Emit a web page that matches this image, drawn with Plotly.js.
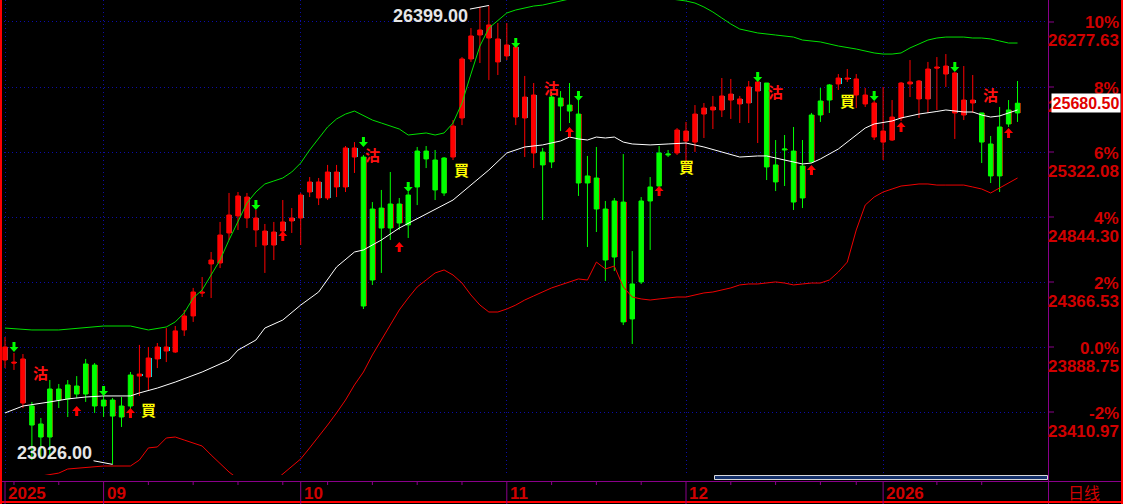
<!DOCTYPE html>
<html><head><meta charset="utf-8">
<script src="https://cdn.plot.ly/plotly-3.0.1.min.js"></script>
<style>html,body{margin:0;padding:0;background:#000;overflow:hidden}#chart{width:1123px;height:504px}</style>
</head><body><div id="chart"></div>
<script>
// ---------- data ----------
const openP  = [23889,23778,23801,23315,23227,23227,23499,23507,23543,23543,23455,23455,23381,23374,23455,23690,23808,23889,23889,24007,24117,24293,24293,24528,24712,24859,24999,24991,24837,24741,24734,24808,24837,25006,25102,25102,25175,25175,25352,25352,24190,24381,24763,24763,24800,24786,25065,25271,25043,25021,25513,26006,26175,26219,26256,26153,26109,26094,25726,25741,25227,25249,25660,25623,25094,25094,24903,24528,24550,24073,24095,24367,24962,25072,25300,25484,25476,25601,25645,25653,25734,25748,25712,25800,25837,25212,25102,25337,24954,24984,25249,25594,25704,25866,25866,25859,25741,25682,25476,25579,25829,25837,25844,25932,25947,25954,25903,25704,25704,25395,25146,25146,25528,25609];
const highP  = [23962,23845,23837,23485,23367,23646,23617,23646,23675,23801,23771,23536,23514,23521,23705,23904,23889,23918,24028,24043,24161,24323,24403,24587,24808,25021,25028,25021,24896,24793,24808,24969,24910,25021,25138,25131,25227,25227,25366,25395,25300,24954,25043,25175,24984,25028,25359,25366,25337,25285,25557,26020,26233,26388,26399,26270,26270,26123,25881,25829,25352,25763,25770,25829,25763,25293,25359,24962,24984,25307,24594,24991,25138,25366,25337,25498,25543,25667,25682,25734,25866,25859,25734,25844,25851,25829,25410,25447,25506,25410,25609,25793,25822,25895,25932,25895,25793,25697,25800,25704,25837,25998,25851,25984,26020,26042,25910,25954,25888,25609,25440,25653,25704,25844];
const lowP   = [23734,23720,23440,23058,23080,23073,23440,23374,23514,23485,23404,23374,23026,23301,23404,23529,23573,23734,23778,23845,23970,24073,24256,24249,24469,24675,24749,24763,24624,24433,24528,24690,24727,24638,24991,24932,24969,24991,25028,25168,24168,24345,24433,24675,24749,24690,24932,25204,24969,24999,25263,25520,25984,25976,25851,25888,25998,25520,25285,25204,24822,25204,25476,25535,24999,24624,24734,24374,24447,24050,23911,24352,24602,25057,25285,25300,25190,25322,25425,25491,25579,25565,25535,25535,25388,25116,25035,25072,24896,24910,25241,25543,25609,25778,25837,25645,25653,25410,25263,25403,25550,25726,25572,25609,25631,25800,25418,25557,25609,25241,25094,25028,25506,25543];
const closeP = [23793,23771,23477,23455,23323,23580,23580,23610,23602,23764,23756,23499,23499,23455,23683,23675,23668,23801,23859,23852,24014,24117,24286,24499,24506,24727,24852,24837,24749,24638,24638,24741,24815,24837,25028,24984,24984,25065,25065,25285,25285,24903,24910,24940,24940,25006,25329,25329,25263,25278,25285,25572,26006,26182,26160,25984,26028,25579,25572,25315,25322,25726,25719,25667,25601,25146,25131,24903,24962,24954,24352,24962,25065,25315,25307,25315,25403,25395,25601,25631,25631,25704,25675,25682,25770,25829,25227,25344,25329,25219,25594,25697,25815,25822,25859,25741,25675,25432,25395,25410,25572,25822,25712,25712,25939,25895,25609,25594,25682,25609,25381,25506,25631,25680.5];

// moving average (white) and bands at these candles
const maIdx = [0,2,5,7,9,11,14,15,17,19,22,23,25,26,28,29,31,33,35,37,39,40,42,44,47,50,54,56,58,60,62,63,64,65,66,67,68,69,70,72,74,76,78,81,82,84,85,87,89,90,91,93,94,96,97,99,100,102,104,105,107,108,109,110,111,112,113];
const maVal = [23404,23455,23485,23507,23521,23529,23529,23551,23587,23631,23705,23734,23793,23866,23940,24028,24087,24197,24293,24477,24587,24602,24675,24763,24866,24969,25190,25315,25359,25374,25403,25432,25418,25410,25432,25425,25432,25395,25381,25374,25381,25388,25359,25300,25285,25293,25293,25263,25234,25241,25271,25344,25395,25498,25528,25550,25572,25601,25620,25631,25616,25616,25594,25579,25587,25609,25631];
const upIdx = [0,3,6,11,14,16,18,19,20,21,22,23,24,25,26,27,28,29,30,31,32,33,34,35,36,37,38,39,40,41,42,43,44,45,46,47,48,49,50,51,52,53,54,55,56,57,58,59,60,61,62,63,65,67,70,72,74,76,77,78,79,80,81,82,83,84,86,88,89,91,93,95,97,98,99,100,101,102,103,104,105,107,108,109,110,111,112,113];
const upVal = [24028,24014,24014,24043,24043,24014,24036,24073,24139,24249,24308,24418,24528,24675,24808,24947,25028,25087,25109,25131,25175,25241,25337,25425,25506,25565,25601,25623,25587,25557,25535,25513,25491,25447,25454,25462,25447,25462,25535,25682,25895,26101,26233,26292,26344,26366,26381,26395,26402,26417,26432,26447,26460,26470,26470,26460,26450,26432,26417,26388,26351,26307,26263,26226,26211,26197,26182,26167,26145,26131,26101,26079,26050,26042,26042,26050,26087,26116,26145,26160,26167,26167,26160,26160,26153,26138,26123,26123];
const loIdx = [0,2,4,6,7,11,14,15,16,17,18,19,20,22,23,24,25,26,27,28,29,30,31,32,33,34,35,36,37,38,39,40,41,42,43,44,45,46,47,48,49,50,51,52,53,54,55,56,57,58,59,60,61,62,63,64,65,66,67,68,69,70,71,72,73,74,75,76,77,78,79,80,81,82,83,84,85,86,87,88,89,90,91,92,93,94,95,96,97,98,99,100,101,102,103,104,105,106,107,108,109,110,111,112,113];
const loVal = [22780,22890,22940,22962,22992,23014,23014,23058,23147,23154,23220,23227,23205,23161,23095,23036,22970,22920,22880,22860,22870,22900,22955,23014,23066,23147,23227,23315,23404,23499,23610,23705,23830,23940,24050,24161,24249,24330,24381,24433,24455,24418,24359,24271,24197,24146,24146,24168,24197,24234,24264,24293,24323,24345,24367,24389,24381,24513,24462,24484,24330,24256,24242,24234,24242,24249,24256,24256,24271,24286,24293,24308,24323,24345,24352,24352,24359,24367,24359,24345,24352,24359,24359,24381,24440,24513,24749,24932,24991,25028,25050,25072,25079,25087,25087,25079,25079,25079,25079,25065,25050,25021,25057,25094,25131];

// signals
const sellArrowIdx = [1,11,28,40,45,57,64,84,97,106];
const sellArrowVal = [23889,23565,24932,25395,25065,26123,25734,25873,25734,25947];
const buyArrowIdx  = [8,14,31,44,63,73,90,100,112];
const buyArrowVal  = [23418,23404,24705,24624,25469,25035,25190,25506,25462];
const sellTextIdx = [4,41,61,86,110];
const sellTextVal = [23698,25307,25793,25770,25748];
const buyTextIdx  = [16,51,76,94];
const buyTextVal  = [23426,25197,25219,25697];

// axes labels
const monthIdx = [0,11,33,56,76,98];
const monthLabels = ['2025','09','10','11','12','2026'];
const weekIdx = [1,6,16,21,26,31,36,41,46,51,61,66,71,81,86,91,95,104,109];
const pctLevels = [26277.63,25799.85,25322.08,24844.30,24366.53,23888.75,23410.97];
const pctLabels = ['10%','8%','6%','4%','2%','0.0%','-2%'];
const priceLabels = ['26277.63','25799.85','25322.08','24844.30','24366.53','23888.75','23410.97'];
const lastPriceLabel = '25680.50';
const periodLabel = '日线';

// ---------- layout ----------
const W = 1123, H = 504, ML = 0, MR = 75, MT = 0, MB = 29;
const PW = W - ML - MR, PH = H - MT - MB;
const px = p => (p - ML) / PW;
const py = p => 1 - (p - MT) / PH;
const idx = openP.map((_, i) => i);
const AXIS_RED = '#d00000';
const PURPLE = '#8a008a';
const GRID = '#0c0ca8';
const labelFont = {family: 'Liberation Sans, Arial, sans-serif', size: 17, color: AXIS_RED, weight: 'bold'};

const bodyLo = idx.map(i => Math.min(openP[i], closeP[i]));
const bodyH = idx.map(i => Math.abs(closeP[i] - openP[i]));
const edgeCol = idx.map(i => closeP[i] >= openP[i] ? '#c80000' : '#00e8e8');

const traces = [
  {type: 'candlestick', x: idx, open: openP, high: highP, low: lowP, close: closeP,
   increasing: {line: {color: '#00ff00', width: 1}, fillcolor: '#00ff00'},
   decreasing: {line: {color: '#ff0000', width: 1}, fillcolor: '#ff0000'},
   whiskerwidth: 0, hoverinfo: 'skip', showlegend: false},
  {type: 'bar', x: idx, base: bodyLo, y: bodyH, width: 0.11, offset: 0.25,
   marker: {color: edgeCol, line: {width: 0}}, hoverinfo: 'skip', showlegend: false},
  {type: 'scatter', mode: 'lines', x: upIdx, y: upVal, line: {color: '#00e000', width: 1}, hoverinfo: 'skip', showlegend: false},
  {type: 'scatter', mode: 'lines', x: loIdx, y: loVal, line: {color: '#ee0000', width: 1}, hoverinfo: 'skip', showlegend: false},
  {type: 'scatter', mode: 'lines', x: maIdx, y: maVal, line: {color: '#ffffff', width: 1}, hoverinfo: 'skip', showlegend: false}
];

const shapes = [];
shapes.push({type: 'line', xref: 'paper', yref: 'paper', x0: px(0), x1: px(W), y0: py(481.5), y1: py(481.5), line: {color: PURPLE, width: 1}});
shapes.push({type: 'line', xref: 'paper', yref: 'paper', x0: px(1048.5), x1: px(1048.5), y0: py(0), y1: py(H), line: {color: PURPLE, width: 1}});
shapes.push({type: 'line', xref: 'paper', yref: 'paper', x0: px(1), x1: px(1), y0: py(0), y1: py(H), line: {color: '#ff0000', width: 2}});
shapes.push({type: 'line', xref: 'paper', yref: 'paper', x0: px(1122), x1: px(1122), y0: py(0), y1: py(H), line: {color: '#ff0000', width: 2}});
shapes.push({type: 'line', xref: 'paper', yref: 'paper', x0: px(0), x1: px(W), y0: py(502), y1: py(502), line: {color: '#ff0000', width: 2}});
pctLevels.forEach(v => shapes.push({type: 'line', xref: 'paper', yref: 'y', x0: px(1048), x1: px(1054), y0: v, y1: v, line: {color: PURPLE, width: 1}}));
monthIdx.forEach(i => shapes.push({type: 'line', xref: 'x', yref: 'paper', x0: i, x1: i, y0: py(481), y1: py(H), line: {color: PURPLE, width: 1}}));
weekIdx.forEach(i => shapes.push({type: 'line', xref: 'x', yref: 'paper', x0: i, x1: i, y0: py(481), y1: py(485), line: {color: PURPLE, width: 1}}));
shapes.push({type: 'rect', xref: 'paper', yref: 'paper', x0: px(714.5), x1: px(1047.5), y0: py(475.5), y1: py(479.5), fillcolor: '#14306a', line: {color: '#d8d8d8', width: 1}});
const downPath = 'M-1.5,5 L1.5,5 L1.5,0 L4.5,0 L0,-5 L-4.5,0 L-1.5,0 Z';
const upPath = 'M-1.5,-5 L1.5,-5 L1.5,0 L4.5,0 L0,5 L-4.5,0 L-1.5,0 Z';
sellArrowIdx.forEach((i, k) => shapes.push({type: 'path', xref: 'x', yref: 'y', xsizemode: 'pixel', ysizemode: 'pixel', xanchor: i, yanchor: sellArrowVal[k], path: downPath, fillcolor: '#00ff00', line: {width: 0}}));
buyArrowIdx.forEach((i, k) => shapes.push({type: 'path', xref: 'x', yref: 'y', xsizemode: 'pixel', ysizemode: 'pixel', xanchor: i, yanchor: buyArrowVal[k], path: upPath, fillcolor: '#ff0000', line: {width: 0}}));

const annotations = [];
pctLevels.forEach((v, k) => {
  annotations.push({xref: 'paper', yref: 'y', x: px(1121), y: v, yshift: -1, xanchor: 'right', yanchor: 'middle', text: pctLabels[k], showarrow: false, font: labelFont});
  annotations.push({xref: 'paper', yref: 'y', x: px(1121), y: v, yshift: -19, xanchor: 'right', yanchor: 'middle', text: priceLabels[k], showarrow: false, font: labelFont});
});
monthIdx.forEach((i, k) => annotations.push({xref: 'x', yref: 'paper', x: i, xshift: 1, y: py(493), xanchor: 'left', yanchor: 'middle', text: monthLabels[k], showarrow: false, font: labelFont}));
annotations.push({xref: 'paper', yref: 'paper', x: px(1084), y: py(492), xanchor: 'center', yanchor: 'middle', text: periodLabel, showarrow: false, font: {family: 'Noto Sans CJK SC', size: 16, color: AXIS_RED}});
annotations.push({xref: 'paper', yref: 'y', x: px(1121), y: closeP[closeP.length - 1], xanchor: 'right', yanchor: 'middle', text: lastPriceLabel, showarrow: false, bgcolor: '#ffffff', borderpad: 0, width: 68, height: 18, font: {family: 'Liberation Sans, Arial, sans-serif', size: 16, color: '#e00000', weight: 'bold'}});
const hiV = Math.max(...highP), loV = Math.min(...lowP);
const hiI = highP.indexOf(hiV), loI = lowP.indexOf(loV);
const hlFont = {family: 'Liberation Sans, Arial, sans-serif', size: 18, color: '#e6e6e6', weight: 'bold'};
annotations.push({xref: 'x', yref: 'y', x: hiI, y: hiV, text: hiV.toFixed(2), showarrow: true, arrowhead: 0, arrowwidth: 1, arrowcolor: '#ffffff', ax: -58, ay: 11, font: hlFont});
annotations.push({xref: 'x', yref: 'y', x: loI, y: loV, text: loV.toFixed(2), showarrow: true, arrowhead: 0, arrowwidth: 1, arrowcolor: '#ffffff', ax: -58, ay: -11, font: hlFont});
const sigFont = {family: 'Noto Sans CJK TC', size: 15, weight: 'bold'};
sellTextIdx.forEach((i, k) => annotations.push({xref: 'x', yref: 'y', x: i, y: sellTextVal[k], text: '沽', showarrow: false, font: Object.assign({}, sigFont, {color: '#ff1010'})}));
buyTextIdx.forEach((i, k) => annotations.push({xref: 'x', yref: 'y', x: i, y: buyTextVal[k], text: '買', showarrow: false, font: Object.assign({}, sigFont, {color: '#ffff00'})}));

const layout = {
  width: W, height: H,
  margin: {l: ML, r: MR, t: MT, b: MB, pad: 0},
  paper_bgcolor: '#000000', plot_bgcolor: '#000000',
  showlegend: false, bargap: 0,
  xaxis: {range: [-0.56, 116.4], rangeslider: {visible: false}, tickvals: monthIdx, showticklabels: false, ticks: '',
          showgrid: true, gridcolor: GRID, griddash: '1px,3px', gridwidth: 1, zeroline: false, showline: false, fixedrange: true},
  yaxis: {range: [22947.9, 26439.3], tickvals: pctLevels, showticklabels: false, ticks: '',
          showgrid: true, gridcolor: GRID, griddash: '1px,3px', gridwidth: 1, zeroline: false, showline: false, fixedrange: true},
  shapes: shapes,
  annotations: annotations
};
Plotly.newPlot('chart', traces, layout, {displayModeBar: false, staticPlot: true});
</script>
</body></html>
